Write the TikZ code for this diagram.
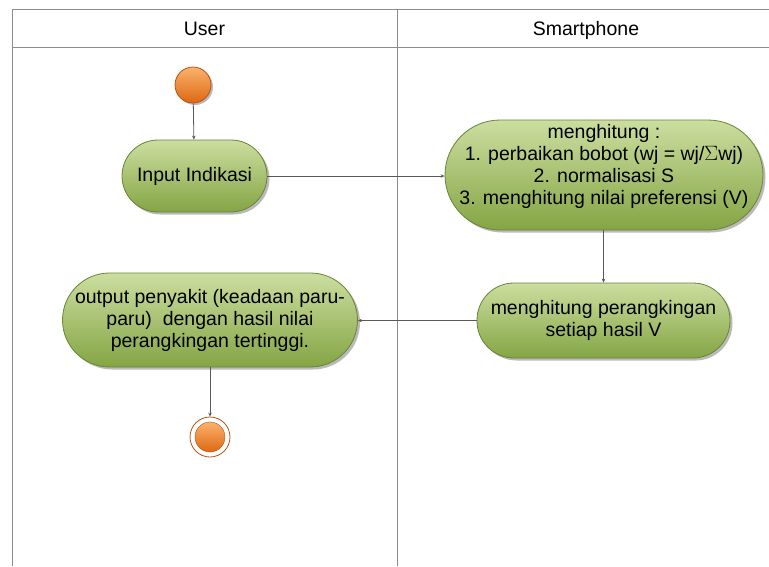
\documentclass[tikz,border=0pt]{standalone}
\usepackage{fontspec}
\setmainfont{Liberation Sans}
\usepackage{tikz}
\usetikzlibrary{arrows.meta}
\usetikzlibrary{shadows}
\usetikzlibrary{positioning}
\definecolor{actTop}{RGB}{204,222,160}
\definecolor{actBot}{RGB}{132,165,68}
\definecolor{actEdge}{RGB}{104,132,52}
\definecolor{dotTop}{RGB}{250,178,110}
\definecolor{dotBot}{RGB}{222,104,18}
\definecolor{dotEdge}{RGB}{180,84,20}
\definecolor{laneLine}{RGB}{140,140,140}

\begin{document}
\begin{tikzpicture}[
			x=1pt, y=-1pt,
			every node/.style={font=\fontsize{19.5}{22}\selectfont},
			activity/.style={rectangle, rounded corners=#1, draw=actEdge, thick, top color=actTop, bottom color=actBot,
					align=center, inner sep=0pt,
					drop shadow={shadow xshift=2.5pt, shadow yshift=-2.5pt, fill=black!45, opacity=0.6}},
			startdot/.style={circle, draw=dotEdge, thick, top color=dotTop, bottom color=dotBot, minimum size=36pt, inner sep=0pt,
					drop shadow={shadow xshift=2pt, shadow yshift=-2pt, fill=black!45, opacity=0.6}},
			flow/.style={-{Stealth[length=4pt, width=3.5pt]}, draw=black!65, thick}
		]
		\useasboundingbox (0,0) rectangle (769,566);

		% --- Swimlanes ---
		\draw[laneLine, thick] (769,9) -- (12,9) -- (12,566);
		\draw[laneLine, thick] (12,47) -- (769,47);
		\draw[laneLine, thick] (397,9) -- (397,566);
		\node[anchor=base] (user) at (204.5,35) {User};
		\node[anchor=base] (phone) at (586,35) {Smartphone};

		% --- User lane ---
		\node[startdot] (start) at (193,85) {};
		\node[activity=36pt, minimum width=145pt, minimum height=72pt] (input) at (194.5,176) {Input Indikasi};
		\node[activity=47pt, minimum width=295pt, minimum height=94pt] (output) at (210,320)
		{output penyakit (keadaan paru-\\paru)\ \ dengan hasil nilai\\perangkingan tertinggi.};
		\node[circle, draw=dotEdge, thick, fill=white, minimum size=40pt, inner sep=0pt] (stop) at (210,437) {};
		\node[circle, draw=dotEdge, top color=dotTop, bottom color=dotBot, minimum size=30pt, inner sep=0pt] (stopin) at (stop) {};

		% --- Smartphone lane ---
		\node[activity=55pt, minimum width=318pt, minimum height=110pt] (hitung) at (604,175) {};
		\node[align=center, inner sep=0pt] (hitungtext) at (604,166.5)
		{menghitung :\\1. perbaikan bobot (wj = wj/$\Sigma$wj)\\2. normalisasi S\\3. menghitung nilai preferensi (V)};
		\node[activity=37pt, minimum width=253pt, minimum height=75pt] (rank) at (603.5,320.5)
		{menghitung perangkingan\\setiap hasil V};

		% --- Flows ---
		\draw[flow] (start) -- (input);
		\draw[flow] (input.east) -- (input.east -| hitung.west);
		\draw[flow] (hitung.south -| rank.north) -- (rank.north);
		\draw[flow] (rank.west) -- (rank.west -| output.east);
		\draw[flow] (output) -- (stop);

	\end{tikzpicture}
\end{document}
